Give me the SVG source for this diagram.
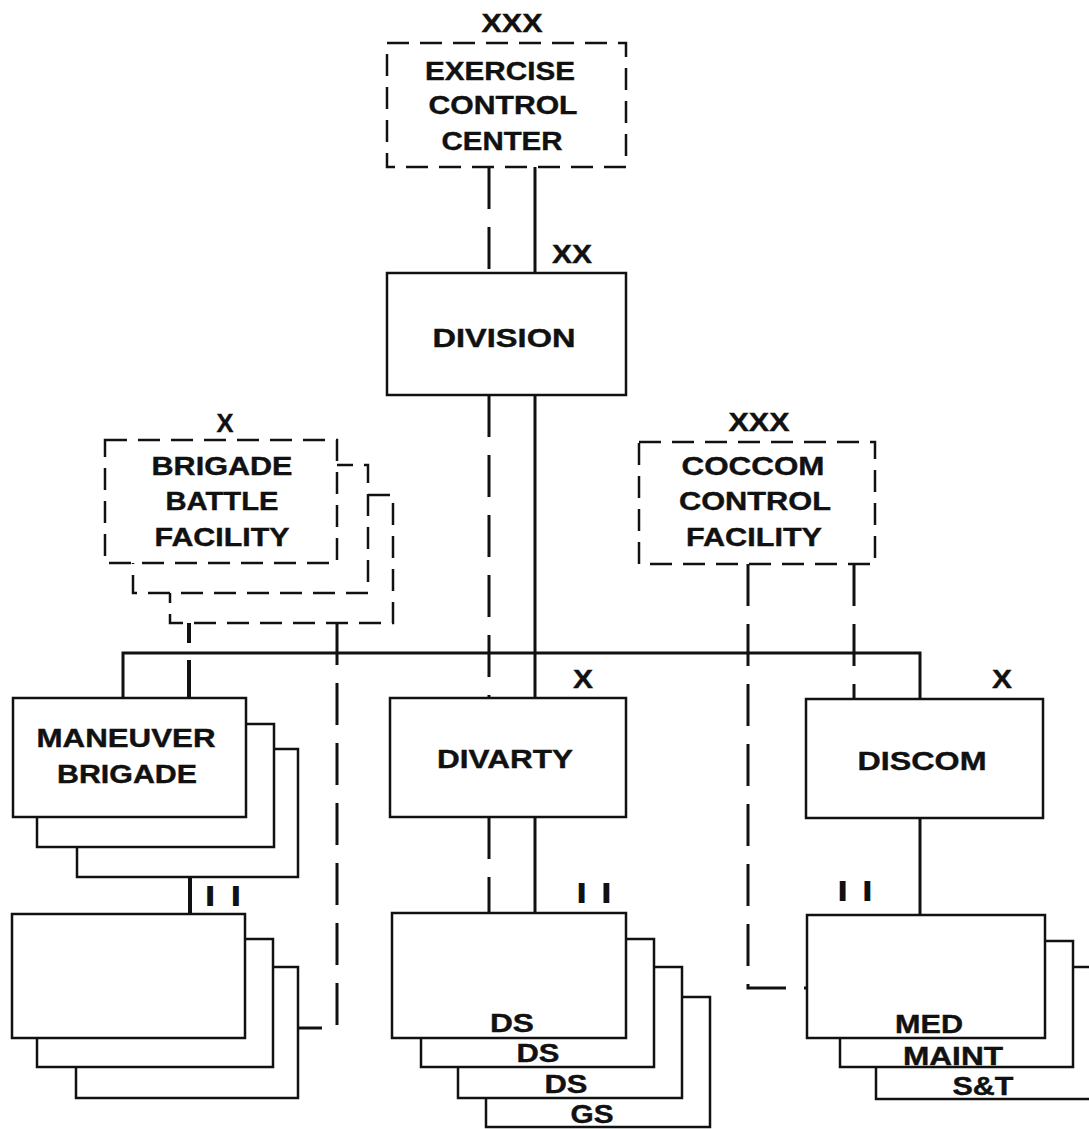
<svg xmlns="http://www.w3.org/2000/svg" width="1089" height="1129" viewBox="0 0 1089 1129">
<style>
.box{fill:#fff;stroke:#111;stroke-width:2.5}
.dbox{fill:#fff;stroke:#111;stroke-width:2.5;stroke-dasharray:22 11}
.ln{fill:none;stroke:#111;stroke-width:3}
.dln{fill:none;stroke:#111;stroke-width:3;stroke-dasharray:42 18}
.t{font-family:"Liberation Sans",Arial,sans-serif;font-weight:bold;font-size:26px;fill:#111;stroke:#111;stroke-width:0.4;text-anchor:middle}
.bar{fill:none;stroke:#111;stroke-width:5}
</style>
<rect width="1089" height="1129" fill="#fff"/>
<g id="connectors">
<line class="ln" x1="535" y1="167" x2="535" y2="273"/>
<line class="dln" x1="489" y1="167" x2="489" y2="273"/>
<line class="ln" x1="535" y1="395" x2="535" y2="698"/>
<line class="dln" x1="489" y1="395" x2="489" y2="698"/>
<polyline class="ln" points="123,698 123,653 920,653 920,699"/>
<line class="ln" x1="535" y1="817" x2="535" y2="913"/>
<line class="dln" x1="489" y1="817" x2="489" y2="913"/>
<line class="ln" x1="920" y1="818" x2="920" y2="915"/>
<line class="ln" x1="190" y1="877" x2="190" y2="914" style="stroke-width:4"/>
<line class="dln" x1="189" y1="623" x2="189" y2="698" style="stroke-width:4;stroke-dasharray:20 17 40"/>
<polyline class="dln" points="337,623 337,1028 298,1028"/>
<polyline class="dln" points="748,564 748,988 807,988"/>
<line class="dln" x1="854" y1="564" x2="854" y2="699"/>
</g>
<g id="exercise-control-center">
<rect class="dbox" x="387" y="43" width="239" height="124"/>
<text class="t" x="512" y="32" textLength="61" lengthAdjust="spacingAndGlyphs">XXX</text>
<text class="t" x="500" y="80" textLength="150" lengthAdjust="spacingAndGlyphs">EXERCISE</text>
<text class="t" x="503" y="114" textLength="149" lengthAdjust="spacingAndGlyphs">CONTROL</text>
<text class="t" x="502" y="150" textLength="121" lengthAdjust="spacingAndGlyphs">CENTER</text>
</g>
<g id="division">
<rect class="box" x="387" y="273" width="239" height="122"/>
<text class="t" x="572" y="263" textLength="40" lengthAdjust="spacingAndGlyphs">XX</text>
<text class="t" x="504" y="347" textLength="143" lengthAdjust="spacingAndGlyphs">DIVISION</text>
</g>
<g id="brigade-battle-facility">
<rect class="dbox" x="170" y="495" width="223" height="128"/>
<rect class="dbox" x="133" y="465" width="235" height="128"/>
<rect class="dbox" x="105" y="440" width="232" height="123"/>
<text class="t" x="225" y="432" textLength="17" lengthAdjust="spacingAndGlyphs">X</text>
<text class="t" x="222" y="475" textLength="141" lengthAdjust="spacingAndGlyphs">BRIGADE</text>
<text class="t" x="222" y="510" textLength="113" lengthAdjust="spacingAndGlyphs">BATTLE</text>
<text class="t" x="222" y="546" textLength="135" lengthAdjust="spacingAndGlyphs">FACILITY</text>
</g>
<g id="coccom-control-facility">
<rect class="dbox" x="639" y="442" width="236" height="122"/>
<text class="t" x="759" y="431" textLength="61" lengthAdjust="spacingAndGlyphs">XXX</text>
<text class="t" x="753" y="475" textLength="143" lengthAdjust="spacingAndGlyphs">COCCOM</text>
<text class="t" x="755" y="510" textLength="152" lengthAdjust="spacingAndGlyphs">CONTROL</text>
<text class="t" x="754" y="546" textLength="136" lengthAdjust="spacingAndGlyphs">FACILITY</text>
</g>
<g id="maneuver-brigade">
<rect class="box" x="77" y="749" width="221" height="128"/>
<rect class="box" x="37" y="724" width="237" height="123"/>
<rect class="box" x="13" y="698" width="233" height="119"/>
<text class="t" x="126" y="747" textLength="179" lengthAdjust="spacingAndGlyphs">MANEUVER</text>
<text class="t" x="127" y="783" textLength="140" lengthAdjust="spacingAndGlyphs">BRIGADE</text>
</g>
<g id="divarty">
<rect class="box" x="390" y="698" width="236" height="119"/>
<text class="t" x="583" y="688" textLength="20" lengthAdjust="spacingAndGlyphs">X</text>
<text class="t" x="505" y="768" textLength="136" lengthAdjust="spacingAndGlyphs">DIVARTY</text>
</g>
<g id="discom">
<rect class="box" x="806" y="699" width="237" height="119"/>
<text class="t" x="1002" y="688" textLength="20" lengthAdjust="spacingAndGlyphs">X</text>
<text class="t" x="922" y="770" textLength="129" lengthAdjust="spacingAndGlyphs">DISCOM</text>
</g>
<g id="brigade-battalions">
<rect class="box" x="76" y="967" width="222" height="131"/>
<rect class="box" x="37" y="939" width="236" height="128"/>
<rect class="box" x="12" y="914" width="233" height="124"/>
<text class="t" x="223" y="905" textLength="33" style="stroke-width:2">I I</text>
</g>
<g id="divarty-battalions">
<rect class="box" x="486" y="997" width="224" height="130"/>
<rect class="box" x="458" y="967" width="224" height="131"/>
<rect class="box" x="421" y="939" width="233" height="128"/>
<rect class="box" x="392" y="913" width="234" height="125"/>
<text class="t" x="594" y="902" textLength="32" style="stroke-width:2">I I</text>
<text class="t" x="512" y="1032" textLength="44" lengthAdjust="spacingAndGlyphs">DS</text>
<text class="t" x="538" y="1062" textLength="43" lengthAdjust="spacingAndGlyphs">DS</text>
<text class="t" x="566" y="1093" textLength="43" lengthAdjust="spacingAndGlyphs">DS</text>
<text class="t" x="592" y="1123" textLength="43" lengthAdjust="spacingAndGlyphs">GS</text>
</g>
<g id="discom-battalions">
<rect class="box" x="876" y="967" width="230" height="132"/>
<rect class="box" x="840" y="941" width="233" height="126"/>
<rect class="box" x="807" y="915" width="238" height="123"/>
<text class="t" x="855" y="900" textLength="32" style="stroke-width:2">I I</text>
<text class="t" x="929" y="1033" textLength="68" lengthAdjust="spacingAndGlyphs">MED</text>
<text class="t" x="953" y="1065" textLength="100" lengthAdjust="spacingAndGlyphs">MAINT</text>
<text class="t" x="983" y="1095" textLength="61" lengthAdjust="spacingAndGlyphs">S&amp;T</text>
</g>
</svg>
